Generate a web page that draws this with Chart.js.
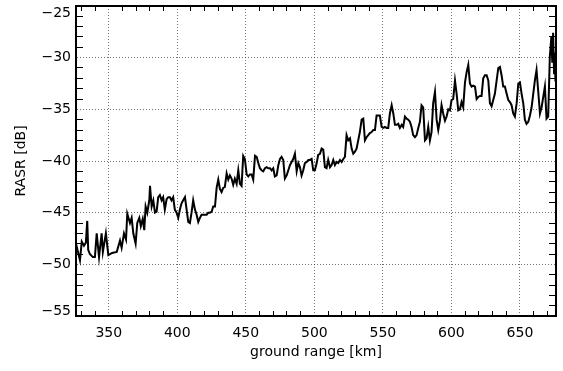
<!DOCTYPE html>
<html>
<head>
<meta charset="utf-8">
<script src="https://cdn.jsdelivr.net/npm/chart.js@4.4.0/dist/chart.umd.min.js"></script>
<style>html,body{margin:0;padding:0;background:#fff}canvas{display:block}</style>
</head>
<body>
<canvas id="c" width="563" height="371"></canvas>
<script>
// ground range (km)
const groundRangeKm = [
326.1,329.0,330.3,331.9,333.3,334.3,335.0,336.2,338.4,339.9,341.2,342.9,344.8,345.7,347.9,349.7,352.4,355.8,356.7,358.2,
359.4,361.1,362.6,363.5,365.5,366.7,367.9,369.6,370.8,372.3,373.4,374.8,375.9,376.9,378.1,379.6,380.1,381.3,382.5,383.7,
384.9,386.1,387.3,388.6,389.7,390.9,392.2,393.4,394.6,395.8,397.0,398.2,399.5,400.7,401.9,403.1,404.3,405.6,406.8,408.0,
409.2,410.4,411.6,412.9,414.1,415.3,416.5,417.7,418.9,421.4,422.6,423.8,425.1,426.2,427.5,428.7,429.9,431.1,432.3,433.5,
434.7,436.0,437.2,438.4,439.6,440.8,442.0,443.3,444.5,445.7,446.9,448.1,449.3,450.6,451.8,453.0,454.2,455.4,456.7,457.9,
459.1,460.3,461.5,462.7,464.0,465.2,466.4,467.6,468.8,470.0,471.2,472.5,473.7,474.9,476.1,477.3,478.5,479.8,481.0,482.2,
483.4,484.6,485.8,487.1,488.3,489.5,490.7,491.9,493.1,494.4,495.6,496.8,498.0,499.2,500.4,501.7,502.8,504.1,505.3,506.5,
507.7,508.9,510.1,511.4,512.6,513.8,515.0,516.3,517.4,518.7,519.9,521.1,522.3,523.5,524.7,526.0,527.2,528.4,529.6,530.8,
532.0,533.2,534.5,535.7,536.9,538.1,539.3,540.5,541.8,543.0,544.2,545.4,546.6,547.8,549.1,550.3,551.5,552.7,553.9,555.1,
556.4,557.6,558.8,560.0,561.2,562.4,563.7,564.8,566.1,567.3,568.5,569.7,570.9,572.1,573.4,574.6,575.8,577.0,578.2,579.4,
580.7,581.9,583.1,584.3,585.5,586.7,588.0,589.2,590.4,591.6,592.8,594.0,595.3,596.5,597.7,598.9,600.1,601.3,602.6,603.8,
605.0,606.2,607.4,608.6,609.9,611.1,612.3,613.5,614.7,615.9,617.2,618.4,619.6,620.8,622.0,623.2,624.5,625.7,626.9,628.1,
629.3,630.5,631.7,633.0,634.2,635.4,636.6,637.8,639.0,640.3,641.5,642.7,643.9,645.1,646.3,647.6,648.8,650.0,651.2,652.4,
653.6,654.8,656.1,657.3,658.5,659.7,660.9,662.1,663.3,664.6,665.8,667.0,668.2,669.4,670.6,671.8,672.9,673.6,674.2,674.9,
675.4,675.9
];
// RASR (dB)
const rasrDb = [
-48.0,-49.6,-47.8,-48.2,-47.9,-45.8,-48.6,-49.0,-49.3,-49.3,-47.0,-49.3,-47.0,-48.8,-47.0,-49.1,-48.9,-48.8,-48.4,-47.7,
-48.4,-47.0,-47.6,-45.1,-46.0,-45.5,-47.0,-48.0,-46.0,-45.5,-46.3,-45.6,-46.7,-44.4,-45.0,-43.8,-42.4,-44.4,-43.8,-45.0,
-44.9,-43.5,-43.3,-43.8,-43.5,-44.7,-43.7,-43.5,-43.5,-43.8,-43.5,-44.7,-45.0,-45.5,-44.7,-44.1,-43.8,-43.5,-44.7,-45.9,
-46.0,-45.0,-43.8,-44.7,-45.2,-45.9,-45.5,-45.2,-45.2,-45.2,-45.0,-45.0,-44.9,-44.4,-44.4,-42.6,-41.8,-42.7,-43.0,-42.6,
-42.5,-41.2,-41.8,-41.4,-41.7,-42.3,-41.7,-42.2,-40.9,-42.2,-42.4,-39.5,-39.8,-41.3,-41.5,-41.3,-41.3,-41.8,-39.5,-39.6,
-40.2,-40.7,-40.9,-41.0,-40.7,-40.6,-40.7,-40.7,-40.9,-40.7,-41.5,-41.4,-40.4,-39.8,-39.6,-39.9,-41.7,-41.4,-40.9,-40.4,
-40.1,-39.8,-39.3,-41.0,-40.2,-40.6,-41.4,-40.9,-40.2,-40.1,-39.9,-39.9,-39.8,-40.9,-40.9,-40.2,-39.4,-39.3,-38.8,-38.9,
-40.6,-40.7,-39.9,-40.6,-40.4,-39.9,-40.4,-40.1,-40.2,-39.9,-40.1,-39.8,-39.6,-37.5,-38.0,-37.8,-38.8,-39.3,-39.1,-38.8,
-38.0,-37.2,-36.0,-35.9,-38.0,-37.7,-37.5,-37.3,-37.2,-37.0,-37.0,-35.6,-35.6,-35.6,-36.7,-36.8,-36.7,-36.8,-36.8,-35.4,
-34.6,-35.4,-36.5,-36.5,-36.4,-36.8,-36.5,-36.7,-35.7,-35.9,-36.0,-36.2,-36.7,-37.5,-37.7,-37.5,-36.8,-36.2,-34.6,-34.8,
-38.0,-37.8,-36.7,-38.0,-37.2,-34.4,-33.3,-36.0,-37.0,-36.1,-34.6,-35.4,-36.1,-35.7,-35.0,-35.1,-34.1,-34.0,-32.2,-33.5,
-35.1,-35.0,-34.3,-34.8,-32.4,-31.4,-30.7,-32.5,-32.8,-32.7,-32.8,-34.0,-33.8,-33.7,-33.7,-32.0,-31.7,-31.7,-32.2,-34.4,
-34.7,-34.1,-33.5,-32.2,-31.0,-30.9,-31.7,-32.8,-32.8,-33.5,-34.1,-34.3,-34.6,-35.4,-35.7,-34.4,-32.5,-32.4,-33.5,-34.4,
-36.0,-36.4,-36.2,-35.6,-34.8,-33.5,-32.2,-31.2,-33.2,-35.4,-34.8,-33.8,-32.8,-35.9,-35.7,-29.9,-28.0,-30.5,-27.6,-31.5,
-29.5,-32.3
];

// axis ranges and ticks
const xRange = [326.1, 676.3];
const yRange = [-55, -25];
const xMajorTicks = [350, 400, 450, 500, 550, 600, 650];
const xTickLabels = ['350', '400', '450', '500', '550', '600', '650'];
const xMinorTicks = [330,340,360,370,380,390,410,420,430,440,460,470,480,490,510,520,530,540,560,570,580,590,610,620,630,640,660,670];
const yMajorTicks = [-55, -50, -45, -40, -35, -30, -25];
const yTickLabels = ['\u221255', '\u221250', '\u221245', '\u221240', '\u221235', '\u221230', '\u221225'];
const yMinorTicks = [-54,-53,-52,-51,-49,-48,-47,-46,-44,-43,-42,-41,-39,-38,-37,-36,-34,-33,-32,-31,-29,-28,-27,-26];

const FONT = "'DejaVu Sans', sans-serif";
const GRID = 'rgba(0,0,0,0.55)';
const CLEAR = 'rgba(0,0,0,0)';
const xAll = xMinorTicks.concat(xMajorTicks).sort((a, b) => a - b);
const yAll = yMinorTicks.concat(yMajorTicks).sort((a, b) => a - b);
const isXMajor = c => c.tick && xMajorTicks.includes(c.tick.value);
const isYMajor = c => c.tick && yMajorTicks.includes(c.tick.value);
const isYInnerMajor = c => isYMajor(c) && c.tick.value !== yRange[0] && c.tick.value !== yRange[1];
const noPad = s => { s.paddingTop = 0; s.paddingBottom = 0; s.paddingLeft = 0; s.paddingRight = 0; };

const endLabelShift = {
  id: 'endLabelShift',
  beforeDraw(chart) {
    const s = chart.scales.y;
    s.getLabelItems().forEach(it => {
      if (it._shifted) return;
      if (it.label === yTickLabels[yTickLabels.length - 1]) it.options.translation[1] += 7;
      if (it.label === yTickLabels[0]) it.options.translation[1] -= 5;
      it._shifted = true;
    });
  }
};

new Chart(document.getElementById('c'), {
  type: 'line',
  data: {
    datasets: [{
      data: groundRangeKm.map((x, i) => ({ x, y: rasrDb[i] })),
      borderColor: '#000',
      borderWidth: 2,
      pointRadius: 0,
      tension: 0,
      fill: false
    }]
  },
  options: {
    responsive: false,
    devicePixelRatio: 1,
    animation: false,
    layout: { padding: 0 },
    plugins: { legend: { display: false }, tooltip: { enabled: false } },
    scales: {
      x: {
        type: 'linear', position: 'bottom', min: xRange[0], max: xRange[1],
        afterBuildTicks: s => { s.ticks = xAll.map(v => ({ value: v })); },
        afterFit: s => { s.height = 55; noPad(s); },
        ticks: {
          autoSkip: false, maxRotation: 0, padding: 14, color: '#000',
          font: { family: FONT, size: 14 },
          callback: v => { const i = xMajorTicks.indexOf(v); return i >= 0 ? xTickLabels[i] : ''; }
        },
        grid: {
          color: c => isXMajor(c) ? GRID : CLEAR, lineWidth: 1,
          tickLength: -5, tickWidth: 1, tickColor: c => isXMajor(c) ? CLEAR : '#000'
        },
        border: { color: '#000', width: 2, dash: [1, 2] },
        title: { display: true, text: 'ground range [km]', color: '#000', font: { family: FONT, size: 14 }, padding: { top: 0, bottom: 10 } }
      },
      x2: {
        type: 'linear', position: 'top', min: xRange[0], max: xRange[1],
        afterBuildTicks: s => { s.ticks = xMinorTicks.map(v => ({ value: v })); },
        afterFit: s => { s.height = 6; noPad(s); },
        ticks: { display: false },
        grid: { drawOnChartArea: false, tickLength: -5, tickWidth: 1, tickColor: '#000' },
        border: { color: '#000', width: 2 }
      },
      y: {
        type: 'linear', position: 'left', min: yRange[0], max: yRange[1],
        afterBuildTicks: s => { s.ticks = yAll.map(v => ({ value: v })); },
        afterFit: s => { s.width = 76; noPad(s); },
        ticks: {
          autoSkip: false, padding: 12, color: '#000',
          font: { family: FONT, size: 14 },
          callback: v => { const i = yMajorTicks.indexOf(v); return i >= 0 ? yTickLabels[i] : ''; }
        },
        grid: {
          color: c => isYInnerMajor(c) ? GRID : CLEAR, lineWidth: 1,
          tickLength: -7, tickWidth: 1, tickColor: c => isYMajor(c) ? CLEAR : '#000'
        },
        border: { color: '#000', width: 2, dash: [1, 2] },
        title: { display: true, text: 'RASR [dB]', color: '#000', font: { family: FONT, size: 14 }, padding: { top: 13, bottom: 0 } }
      },
      y2: {
        type: 'linear', position: 'right', min: yRange[0], max: yRange[1],
        afterBuildTicks: s => { s.ticks = yMinorTicks.map(v => ({ value: v })); },
        afterFit: s => { s.width = 7; noPad(s); },
        ticks: { display: false },
        grid: { drawOnChartArea: false, tickLength: -7, tickWidth: 1, tickColor: '#000' },
        border: { color: '#000', width: 2 }
      }
    }
  },
  plugins: [endLabelShift]
});
</script>
</body>
</html>
